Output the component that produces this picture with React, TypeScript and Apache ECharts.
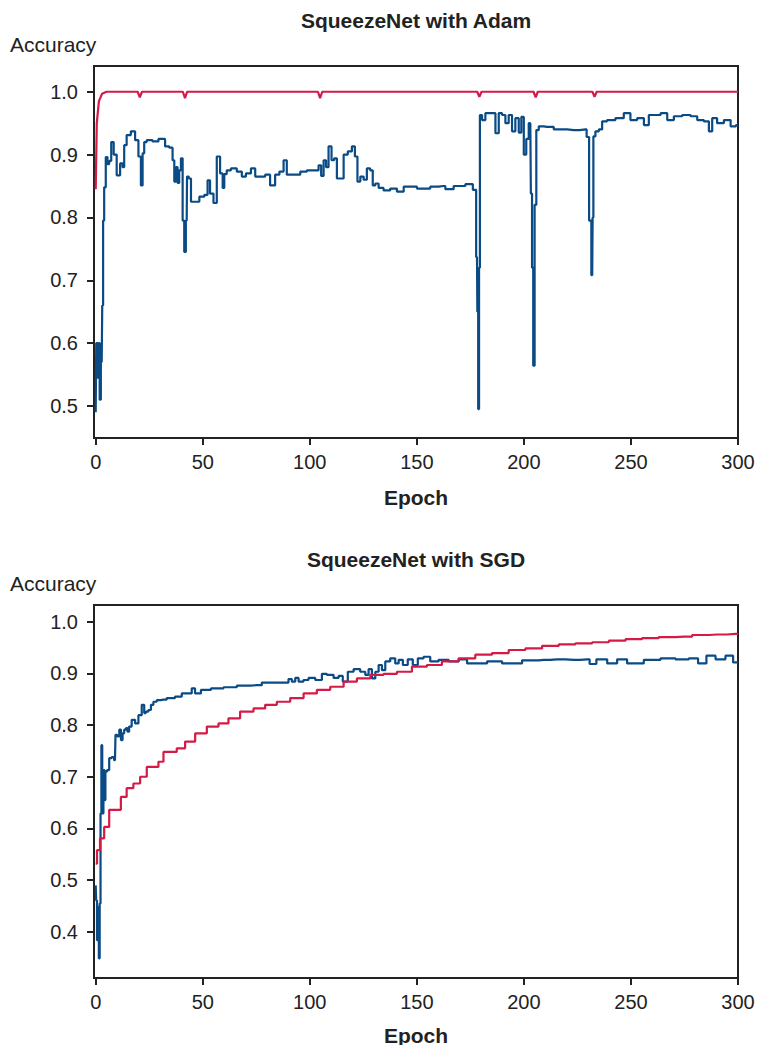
import React, { useEffect, useRef } from "react";
import * as echarts from "echarts";

const xTicks = [0, 50, 100, 150, 200, 250, 300];
const adamYTicks = [0.5, 0.6, 0.7, 0.8, 0.9, 1.0];
const sgdYTicks = [0.4, 0.5, 0.6, 0.7, 0.8, 0.9, 1.0];

// SqueezeNet with Adam — training (red)
const adamTrainEpoch = [0, 0.5, 1.5, 3, 5, 19.6, 20.6, 21.6, 40.7, 41.7, 42.7, 103.8, 104.8, 105.8, 178.2, 179.2, 180.2, 204.5, 205.5, 206.5, 232, 233, 234, 300];
const adamTrainAcc = [0.845, 0.95, 0.985, 0.997, 1.0, 1.0, 0.991, 1.0, 1.0, 0.99, 1.0, 1.0, 0.99, 1.0, 1.0, 0.992, 1.0, 1.0, 0.991, 1.0, 1.0, 0.992, 1.0, 1.0];

// SqueezeNet with Adam — validation (blue)
const adamValEpoch = [0, 0.5, 1.2, 1.7, 2.0, 2.8, 3.3, 3.6, 4.3, 5.1, 5.9, 6.7, 7.8, 9.0, 10.6, 12.2, 12.9, 13.7, 15.2, 17.6, 19.2, 20.7, 21.5, 22.3, 23.0, 24.6, 28.5, 30.1, 31.6, 33.2, 35.5, 36.3, 37.1, 37.9, 38.6, 39.4, 40.2, 41.0, 41.7, 42.5, 42.8, 44.1, 44.9, 47.2, 49.6, 51.9, 52.6, 54.2, 55.8, 57.3, 58.9, 59.7, 60.4, 62.0, 64.3, 67.5, 69.0, 71.3, 73.7, 75.3, 78.4, 79.9, 83.0, 84.6, 87.0, 88.5, 90.0, 94.0, 97.1, 100.2, 103.3, 104.9, 105.7, 107.2, 108.0, 109.5, 110.8, 111.9, 113.4, 115.0, 116.6, 118.9, 120.4, 121.7, 122.8, 124.4, 125.9, 127.4, 129.0, 129.8, 131.4, 132.9, 136.0, 139.1, 142.3, 145.4, 148.5, 151.6, 154.7, 157.8, 162.5, 164.1, 170.3, 175.0, 177.3, 178.1, 178.4, 178.9, 179.2, 179.7, 181.2, 182.8, 185.9, 187.5, 189.0, 190.6, 192.1, 193.7, 195.2, 196.8, 198.4, 199.2, 200.7, 201.5, 203.0, 203.5, 204.1, 204.6, 205.4, 206.2, 207.7, 210.8, 217.1, 223.3, 228.8, 229.8, 231.1, 231.9, 232.3, 232.6, 234.2, 235.8, 237.3, 240.4, 245.1, 248.2, 251.3, 254.5, 257.6, 259.1, 262.3, 265.4, 268.5, 271.6, 276.3, 279.4, 282.5, 285.6, 287.2, 288.7, 291.8, 295.0, 298.1, 300];
const adamValAcc = [0.49, 0.6, 0.545, 0.6, 0.51, 0.57, 0.66, 0.795, 0.848, 0.896, 0.885, 0.89, 0.92, 0.9, 0.867, 0.886, 0.88, 0.915, 0.931, 0.937, 0.923, 0.897, 0.851, 0.902, 0.92, 0.923, 0.921, 0.925, 0.925, 0.913, 0.911, 0.891, 0.857, 0.88, 0.855, 0.875, 0.894, 0.795, 0.745, 0.795, 0.865, 0.862, 0.825, 0.825, 0.833, 0.836, 0.859, 0.838, 0.823, 0.897, 0.87, 0.847, 0.869, 0.875, 0.878, 0.873, 0.865, 0.87, 0.878, 0.865, 0.865, 0.868, 0.851, 0.868, 0.873, 0.891, 0.868, 0.868, 0.873, 0.875, 0.875, 0.883, 0.866, 0.891, 0.88, 0.913, 0.891, 0.894, 0.862, 0.862, 0.9, 0.905, 0.913, 0.897, 0.857, 0.865, 0.86, 0.878, 0.875, 0.851, 0.854, 0.847, 0.843, 0.846, 0.841, 0.849, 0.849, 0.846, 0.846, 0.849, 0.85, 0.845, 0.85, 0.853, 0.844, 0.737, 0.65, 0.495, 0.72, 0.963, 0.955, 0.966, 0.966, 0.934, 0.966, 0.963, 0.95, 0.963, 0.937, 0.958, 0.935, 0.96, 0.9, 0.925, 0.95, 0.838, 0.72, 0.564, 0.82, 0.939, 0.945, 0.944, 0.94, 0.939, 0.94, 0.928, 0.795, 0.708, 0.8, 0.929, 0.937, 0.94, 0.953, 0.955, 0.958, 0.966, 0.955, 0.958, 0.947, 0.963, 0.963, 0.966, 0.955, 0.961, 0.963, 0.961, 0.955, 0.953, 0.937, 0.958, 0.95, 0.955, 0.945, 0.947];

// SqueezeNet with SGD — training (red)
const sgdTrainEpoch = [0, 1.2, 2.8, 5.1, 7.5, 10.6, 12.9, 16.0, 19.2, 22.3, 25.4, 28.5, 30.1, 33.2, 36.3, 39.4, 44.1, 48.8, 55.0, 59.7, 64.3, 70.6, 76.8, 81.5, 87.7, 94.0, 100.2, 106.4, 112.7, 118.9, 125.1, 131.4, 137.6, 143.8, 151.6, 157.8, 165.6, 173.4, 181.2, 189.0, 196.8, 204.6, 212.4, 220.2, 228.0, 235.8, 243.6, 251.3, 259.1, 266.9, 274.7, 282.5, 290.3, 298.9, 300];
const sgdTrainAcc = [0.532, 0.558, 0.581, 0.603, 0.636, 0.636, 0.661, 0.678, 0.687, 0.7, 0.719, 0.719, 0.729, 0.748, 0.748, 0.755, 0.768, 0.784, 0.797, 0.803, 0.813, 0.826, 0.832, 0.839, 0.845, 0.852, 0.861, 0.868, 0.874, 0.884, 0.89, 0.897, 0.899, 0.903, 0.913, 0.916, 0.923, 0.929, 0.936, 0.939, 0.945, 0.948, 0.953, 0.956, 0.958, 0.96, 0.963, 0.966, 0.968, 0.97, 0.971, 0.974, 0.975, 0.976, 0.977];

// SqueezeNet with SGD — validation (blue)
const sgdValEpoch = [0, 0.45, 0.76, 1.23, 1.7, 2.0, 2.5, 2.8, 3.3, 3.9, 4.35, 4.7, 5.9, 6.7, 8.2, 9.0, 9.5, 10.6, 11.4, 12.2, 12.9, 13.7, 14.5, 15.2, 16.0, 17.6, 19.2, 20.7, 22.3, 23.0, 23.8, 25.4, 26.2, 27.7, 29.3, 31.6, 34.7, 39.4, 41.0, 44.1, 45.6, 47.2, 51.1, 56.6, 62.8, 69.0, 75.3, 79.9, 89.3, 90.8, 92.4, 94.0, 95.5, 98.6, 100.2, 104.9, 106.4, 109.5, 112.7, 114.2, 116.6, 118.9, 122.0, 125.1, 126.7, 128.2, 129.8, 131.4, 132.9, 134.5, 136.0, 139.1, 140.7, 142.3, 144.6, 146.9, 149.3, 151.6, 154.7, 157.8, 162.5, 167.2, 171.9, 175.0, 179.7, 185.9, 193.7, 204.6, 209.3, 215.5, 223.3, 229.5, 231.9, 235.8, 242.0, 245.1, 251.3, 260.7, 266.9, 274.7, 279.4, 283.3, 287.2, 291.8, 296.5, 298.9, 300];
const sgdValAcc = [0.49, 0.461, 0.384, 0.448, 0.349, 0.455, 0.629, 0.761, 0.629, 0.713, 0.655, 0.71, 0.713, 0.736, 0.738, 0.732, 0.781, 0.778, 0.791, 0.771, 0.784, 0.791, 0.794, 0.787, 0.797, 0.81, 0.803, 0.819, 0.839, 0.823, 0.826, 0.829, 0.839, 0.845, 0.848, 0.849, 0.852, 0.855, 0.861, 0.861, 0.871, 0.861, 0.868, 0.871, 0.873, 0.876, 0.877, 0.882, 0.882, 0.889, 0.884, 0.891, 0.884, 0.887, 0.891, 0.887, 0.899, 0.897, 0.891, 0.895, 0.884, 0.903, 0.908, 0.903, 0.897, 0.908, 0.89, 0.903, 0.916, 0.906, 0.923, 0.929, 0.919, 0.926, 0.916, 0.927, 0.916, 0.929, 0.932, 0.923, 0.926, 0.923, 0.927, 0.919, 0.919, 0.923, 0.919, 0.925, 0.926, 0.927, 0.926, 0.927, 0.918, 0.927, 0.919, 0.927, 0.919, 0.926, 0.929, 0.927, 0.929, 0.919, 0.934, 0.927, 0.934, 0.921, 0.921];

const BLUE = "#0a4b86";
const RED = "#d41a45";
const INK = "#222222";
const FONT = "'Liberation Sans', Arial, Helvetica, sans-serif";

const zip = (xs: number[], ys: number[]) => xs.map((x, i) => [x, ys[i]]);

export default function App() {
  const ref = useRef<HTMLDivElement>(null);

  useEffect(() => {
    document.body.style.margin = "0";
    if (!ref.current) return;
    const chart = echarts.init(ref.current, undefined, { renderer: "svg" });

    const grids = [
      { left: 94, top: 66, width: 644, height: 372 },
      { left: 94, top: 605, width: 644, height: 373 },
    ];

    const xAxisBase = (gridIndex: number) => ({
      type: "value",
      gridIndex,
      min: -0.8,
      max: 300,
      axisLine: { show: true, onZero: false, lineStyle: { color: INK, width: 2 } },
      axisTick: { show: true, inside: false, length: 7, customValues: xTicks, lineStyle: { color: INK, width: 2 } },
      axisLabel: { show: true, margin: 14, customValues: xTicks, color: INK, fontSize: 20, fontFamily: FONT },
      splitLine: { show: false },
    });

    const yAxisBase = (gridIndex: number, min: number, max: number, ticks: number[]) => ({
      type: "value",
      gridIndex,
      min,
      max,
      axisLine: { show: true, onZero: false, lineStyle: { color: INK, width: 2 } },
      axisTick: { show: true, inside: false, length: 7, customValues: ticks, lineStyle: { color: INK, width: 2 } },
      axisLabel: {
        show: true,
        margin: 16,
        customValues: ticks,
        color: INK,
        fontSize: 20,
        fontFamily: FONT,
        formatter: (v: number) => v.toFixed(1),
      },
      splitLine: { show: false },
    });

    const texts = [
      { text: "SqueezeNet with Adam", x: 416, y: 20, bold: true, center: true },
      { text: "Accuracy", x: 10, y: 44, bold: false, center: false },
      { text: "Epoch", x: 416, y: 497, bold: true, center: true },
      { text: "SqueezeNet with SGD", x: 416, y: 559, bold: true, center: true },
      { text: "Accuracy", x: 10, y: 583, bold: false, center: false },
      { text: "Epoch", x: 416, y: 1035, bold: true, center: true },
    ];

    const lineSeries = (name: string, axis: number, data: number[][], color: string, z: number, step: any) => ({
      name,
      type: "line",
      xAxisIndex: axis,
      yAxisIndex: axis,
      data,
      step,
      showSymbol: false,
      lineStyle: { color, width: 2.2 },
      itemStyle: { color },
      z,
    });

    chart.setOption({
      animation: false,
      backgroundColor: "#ffffff",
      grid: grids.map((g) => ({
        ...g,
        show: true,
        borderColor: INK,
        borderWidth: 2,
        backgroundColor: "transparent",
        containLabel: false,
        outerBoundsMode: "none",
      })),
      xAxis: [xAxisBase(0), xAxisBase(1)],
      yAxis: [
        yAxisBase(0, 0.449, 1.041, adamYTicks),
        yAxisBase(1, 0.311, 1.032, sgdYTicks),
      ],
      graphic: texts.map((t) => ({
        type: "text",
        x: t.x,
        y: t.y,
        style: {
          text: t.text,
          fill: INK,
          fontSize: 21,
          fontWeight: t.bold ? "bold" : "normal",
          fontFamily: FONT,
          textAlign: t.center ? "center" : "left",
          textVerticalAlign: "middle",
        },
      })),
      series: [
        lineSeries("Adam training", 0, zip(adamTrainEpoch, adamTrainAcc), RED, 3, false),
        lineSeries("Adam validation", 0, zip(adamValEpoch, adamValAcc), BLUE, 2, "middle"),
        lineSeries("SGD training", 1, zip(sgdTrainEpoch, sgdTrainAcc), RED, 3, "middle"),
        lineSeries("SGD validation", 1, zip(sgdValEpoch, sgdValAcc), BLUE, 2, "middle"),
      ],
    });

    return () => chart.dispose();
  }, []);

  return <div ref={ref} style={{ width: 758, height: 1045 }} />;
}
